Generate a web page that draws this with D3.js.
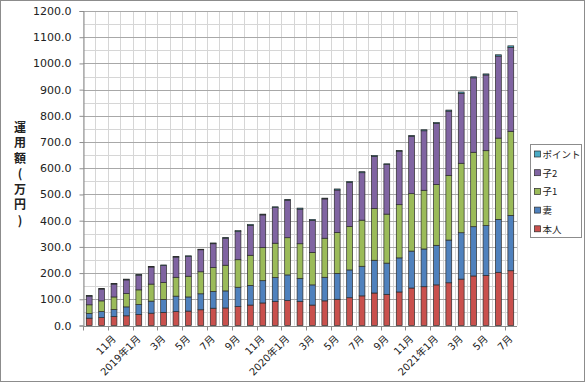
<!DOCTYPE html>
<html><head><meta charset="utf-8">
<script src="https://cdn.jsdelivr.net/npm/d3@7"></script>
<style>
html,body{margin:0;padding:0;background:#fff;}
svg{display:block;}
</style></head>
<body>
<svg id="c" width="586" height="383"></svg>
<script>
const categories = ["2018/9","2018/10","2018/11","2018/12","2019/1","2019/2","2019/3","2019/4","2019/5","2019/6","2019/7","2019/8","2019/9","2019/10","2019/11","2019/12","2020/1","2020/2","2020/3","2020/4","2020/5","2020/6","2020/7","2020/8","2020/9","2020/10","2020/11","2020/12","2021/1","2021/2","2021/3","2021/4","2021/5","2021/6","2021/7"];
const tickLabels = ["","","11月","","2019年1月","","3月","","5月","","7月","","9月","","11月","","2020年1月","","3月","","5月","","7月","","9月","","11月","","2021年1月","","3月","","5月","","7月"];
const seriesNames = ["本人","妻","子1","子2","ポイント"];
const honnin = [28,30,34,37,42,47,50,53,55,60,66,67,72,78,86,91,95,91,78,94,100,106,113,124,119,128,143,148,155,163,177,189,191,203,209];
const tsuma  = [18,23,27,34,38,46,49,59,54,61,64,65,74,75,85,92,98,89,77,90,99,106,113,125,119,130,141,144,151,163,177,188,190,202,211];
const ko1    = [33,41,48,51,56,65,65,72,79,84,91,98,105,115,126,131,142,132,124,149,156,166,176,197,187,203,219,224,232,247,265,284,286,310,321];
const ko2    = [33,45,49,52,56,65,65,77,75,84,91,103,107,114,125,136,143,132,122,150,162,168,181,199,190,204,219,227,233,245,267,284,289,313,320];
const point  = [2,2,2,3,3,2,2,2,3,2,3,3,4,4,3,3,3,4,4,3,4,4,4,4,2,3,3,4,4,4,5,4,4,5,6];
const colors = ["#C9504D","#4F81BD","#9BBB59","#8064A2","#4BACC6"];
const yTicks = [0,100,200,300,400,500,600,700,800,900,1000,1100,1200];

const svg = d3.select("#c");
const L = 83, R = 517, T = 11, B = 325.5;
const x = d3.scaleBand().domain(categories).range([L, R]).paddingInner(0.53).paddingOuter(0.265);
const y = d3.scaleLinear().domain([0, 1200]).range([B, T]);
const step = x.step();

// chart border
svg.append("rect").attr("x",0.5).attr("y",0.5).attr("width",584).attr("height",381)
  .attr("fill","#fff").attr("stroke","#8c8c8c");

// vertical gridlines at category boundaries
const g = svg.append("g");
for (let k = 0; k <= categories.length; k++) {
  const xx = Math.round(L + k*step) + 0.5;
  g.append("line").attr("x1",xx).attr("x2",xx).attr("y1",y(1200)).attr("y2",y(0))
    .attr("stroke","#d6d6d6");
}
// minor horizontal gridlines
d3.range(50, 1200, 100).forEach(v => {
  const yy = Math.round(y(v)) + 0.5;
  g.append("line").attr("x1",L).attr("x2",R).attr("y1",yy).attr("y2",yy).attr("stroke","#d6d6d6");
});
// major horizontal gridlines
yTicks.forEach(v => {
  if (v === 0) return;
  const yy = Math.round(y(v)) + 0.5;
  g.append("line").attr("x1",L).attr("x2",R).attr("y1",yy).attr("y2",yy).attr("stroke","#a8a8a8");
});

// stacked data
const rows = categories.map((c,i) => ({cat:c, "本人":honnin[i], "妻":tsuma[i], "子1":ko1[i], "子2":ko2[i], "ポイント":point[i]}));
const stack = d3.stack().keys(seriesNames)(rows);
svg.append("g").selectAll("g").data(stack).join("g")
  .attr("fill",(d,i)=>colors[i])
  .selectAll("rect").data(d=>d).join("rect")
  .attr("x", d => x(d.data.cat))
  .attr("width", x.bandwidth())
  .attr("y", d => y(d[1]))
  .attr("height", d => y(d[0]) - y(d[1]))
  .attr("stroke","#2a2a2a").attr("stroke-width",0.7);

// y axis
const yAxis = d3.axisLeft(y).tickValues(yTicks).tickSize(4).tickPadding(8).tickFormat(d => d3.format(".1f")(d));
const ya = svg.append("g").attr("transform",`translate(${L+0.5},0)`).call(yAxis);
ya.select(".domain").attr("stroke","#8c8c8c");
ya.selectAll(".tick line").attr("stroke","#8c8c8c");
ya.selectAll("text").attr("font-family","DejaVu Sans, sans-serif").attr("font-size",11).attr("fill","#222");

// x axis
const xa = svg.append("g").attr("transform",`translate(0,${Math.round(B)+0.5})`);
xa.append("line").attr("x1",L).attr("x2",R).attr("stroke","#8c8c8c");
for (let k = 0; k < categories.length; k += 2) {
  const xx = Math.round(L + k*step) + 0.5;
  xa.append("line").attr("x1",xx).attr("x2",xx).attr("y1",0).attr("y2",4).attr("stroke","#8c8c8c");
}
xa.selectAll("text.xl").data(categories).join("text").attr("class","xl")
  .attr("transform", d => `translate(${x(d)+x.bandwidth()/2+2.5},${13}) rotate(-45)`)
  .attr("text-anchor","end")
  .attr("font-family","DejaVu Sans, 'Noto Sans CJK JP', sans-serif").attr("font-size",10).attr("fill","#222")
  .text((d,i) => tickLabels[i]);

// y title (vertical stacked chars)
const titleChars = ["運","用","額","(","万","円",")"];
svg.append("g").selectAll("text").data(titleChars).join("text")
  .attr("x",20).attr("y",(d,i)=>126 + i*15.5)
  .attr("text-anchor","middle").attr("dominant-baseline","central")
  .attr("font-family","'Noto Sans CJK JP', sans-serif").attr("font-weight","bold").attr("font-size",12).attr("fill","#222")
  .text(d=>d);

// legend
const lg = svg.append("g");
lg.append("rect").attr("x",530.5).attr("y",144.5).attr("width",51).attr("height",93)
  .attr("fill","#fff").attr("stroke","#8c8c8c");
const legendOrder = [4,3,2,1,0];
legendOrder.forEach((si, j) => {
  const cy = 154 + j*18.7;
  lg.append("rect").attr("x",534.5).attr("y",cy-3).attr("width",6).attr("height",6)
    .attr("fill",colors[si]).attr("stroke","#2a2a2a").attr("stroke-width",0.7);
  lg.append("text").attr("x",542.5).attr("y",cy).attr("dominant-baseline","central")
    .attr("font-family","'Noto Sans CJK JP', sans-serif").attr("font-size",9.5).attr("fill","#222")
    .text(seriesNames[si]);
});
</script>
</body></html>
